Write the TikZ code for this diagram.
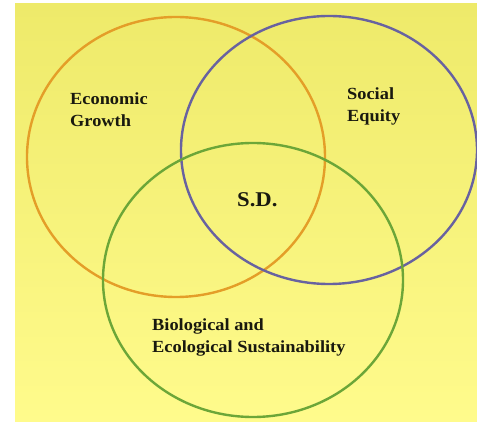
\documentclass[tikz,border=0pt]{standalone}
\usepackage{fontspec}
\newfontfamily\lblfont[FakeStretch=1.08]{Liberation Serif}
\definecolor{bgtop}{RGB}{238,234,106}
\definecolor{bgbottom}{RGB}{255,251,140}
\definecolor{econ}{RGB}{228,158,40}
\definecolor{social}{RGB}{104,98,160}
\definecolor{ecol}{RGB}{108,166,56}
\definecolor{ink}{RGB}{25,25,15}
\begin{document}
\begin{tikzpicture}[x=1pt,y=-1pt,
  ring/.style={line width=2.4pt},
  lbl/.style={inner sep=0pt, anchor=north west, align=left, text=ink,
    font=\lblfont\bfseries\fontsize{17}{22}\selectfont},
  big/.style={inner sep=0pt, anchor=north west, text=ink,
    font=\lblfont\bfseries\fontsize{21}{24}\selectfont}]
  \useasboundingbox (0,0) rectangle (477,422);
  % yellow backdrop
  \shade[top color=bgtop, bottom color=bgbottom] (15,4) rectangle (477,422);
  % the three spheres
  \draw[ring, econ]   (176,157) ellipse [x radius=149pt, y radius=140pt];
  \draw[ring, social] (329,150) ellipse [x radius=148pt, y radius=134pt];
  \draw[ring, ecol]   (253,280) ellipse [x radius=150pt, y radius=137pt];
  % labels
  \node[lbl] (econlbl)   at (70,93)  {Economic\\Growth};
  \node[lbl] (sociallbl) at (347,88) {Social\\Equity};
  \node[big] (sd)        at (237,192) {S.D.};
  \node[lbl] (ecollbl)   at (152,319) {Biological and\\Ecological Sustainability};
\end{tikzpicture}
\end{document}
